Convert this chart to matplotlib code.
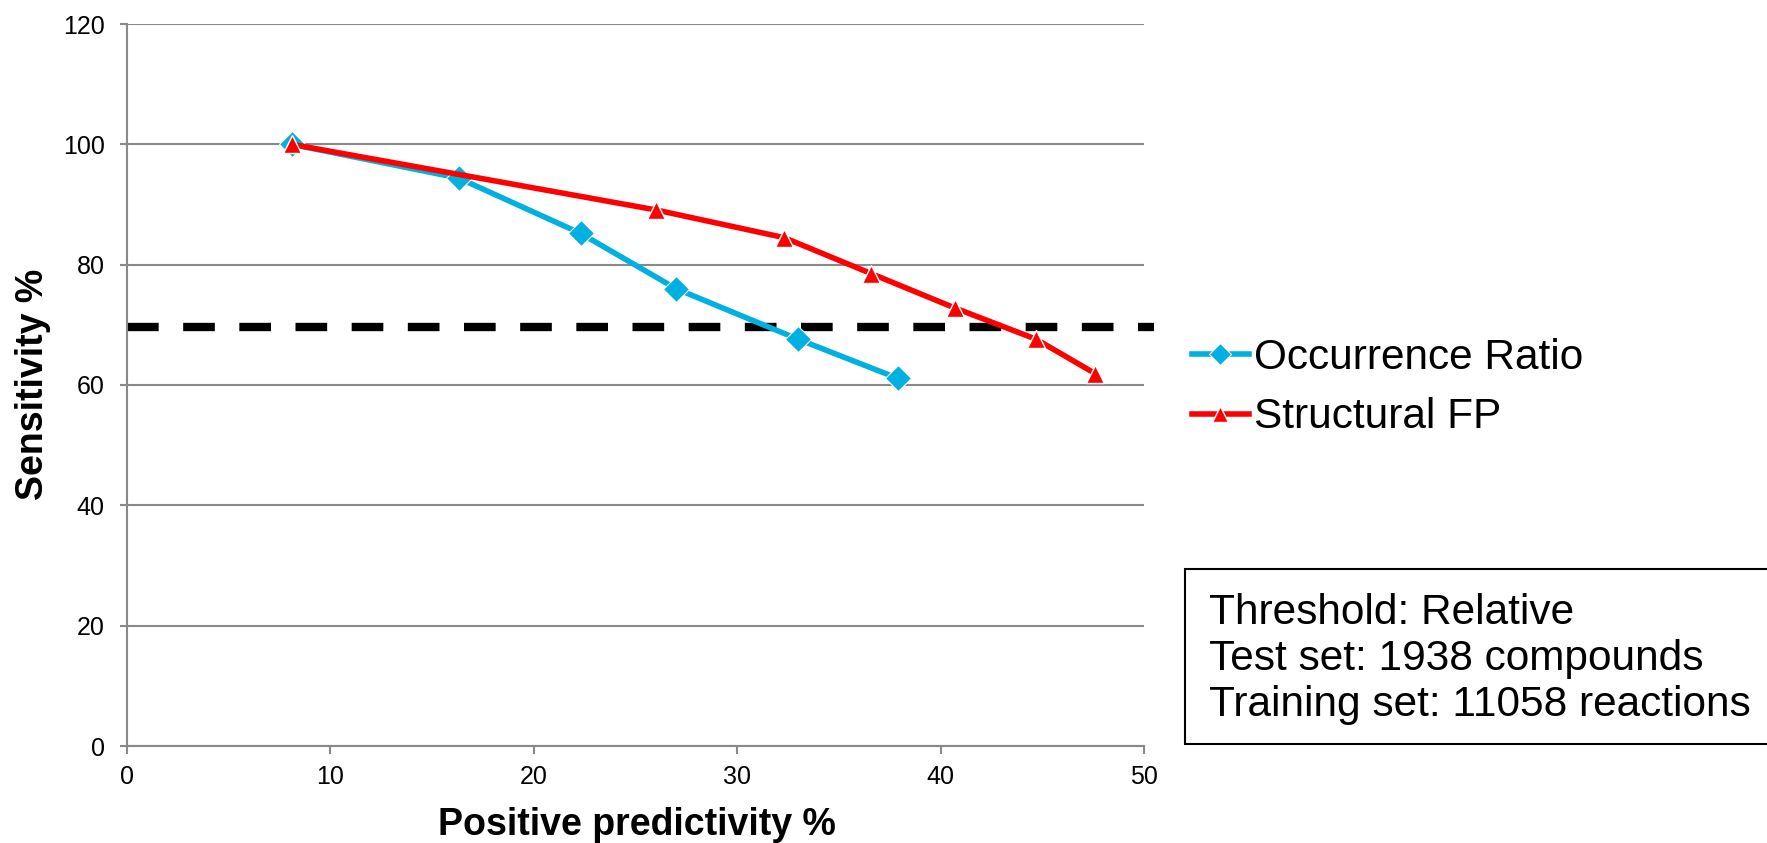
import matplotlib.pyplot as plt
from matplotlib.patches import Rectangle

plt.rcParams['font.family'] = ['Liberation Sans', 'DejaVu Sans']

# Kurvenwerte (Positive predictivity %, Sensitivity %)
occ_x = [8.1, 16.3, 22.3, 27.0, 33.0, 37.9]
occ_y = [100.0, 94.4, 85.2, 76.0, 67.6, 61.1]
fp_x = [8.1, 26.0, 32.3, 36.6, 40.7, 44.7, 47.6]
fp_y = [100.0, 89.1, 84.5, 78.5, 72.8, 67.6, 61.9]
labels = ['Occurrence Ratio', 'Structural FP']
threshold = 69.6
x_ticks = [0, 10, 20, 30, 40, 50]
y_ticks = [0, 20, 40, 60, 80, 100, 120]
info_lines = ['Threshold: Relative',
              'Test set: 1938 compounds',
              'Training set: 11058 reactions']

W, H = 1767, 843
fig = plt.figure(figsize=(W / 100, H / 100), dpi=100)
ax = fig.add_axes([127 / W, 1 - 746 / H, 1017 / W, 722 / H])

grey = '#898989'
blue = '#00B0E0'
red = '#FF0000'

ax.set_xlim(0, 50)
ax.set_ylim(0, 120)
ax.set_xticks(x_ticks)
ax.set_yticks(y_ticks)
ax.grid(axis='y', color=grey, linewidth=1.5, zorder=0)
ax.set_axisbelow(True)
for side in ['top', 'right']:
    ax.spines[side].set_visible(False)
for side in ['left', 'bottom']:
    ax.spines[side].set_color(grey)
    ax.spines[side].set_linewidth(1.5)
ax.tick_params(axis='both', colors=grey, width=1.5, labelsize=18, labelcolor='black')
ax.tick_params(axis='x', length=5.5, pad=8)
ax.tick_params(axis='y', length=5, pad=11)

# Schwellenwert
ax.axhline(threshold, xmin=0, xmax=1.01, color='black', linewidth=6,
           dashes=(3.8, 2.94), clip_on=False, zorder=2)

# Kurven
ax.plot(occ_x, occ_y, color=blue, linewidth=4, marker='D', markersize=13,
        markeredgecolor='white', markeredgewidth=0.8, label=labels[0], zorder=3)
ax.plot(fp_x, fp_y, color=red, linewidth=4, marker='^', markersize=13,
        markeredgecolor='white', markeredgewidth=1, label=labels[1], zorder=4)

fig.text(637 / W, 1 - 835 / H, 'Positive predictivity %', fontsize=27,
         fontweight='bold', ha='center', va='baseline')
fig.text(43 / W, 1 - 384 / H, 'Sensitivity %', fontsize=27, fontweight='bold',
         rotation=90, rotation_mode='anchor', ha='center', va='baseline')

fig.legend(loc='center left', bbox_to_anchor=(1192 / W, 1 - 387.5 / H),
           frameon=False, fontsize=30.5, handlelength=1.34, handletextpad=0.12,
           labelspacing=0.47, borderpad=0, borderaxespad=0, markerscale=0.85)

# Infobox
fig.patches.append(Rectangle((1184.5 / W, 1 - 743.5 / H), 600 / W, 174.5 / H,
                             transform=fig.transFigure, facecolor='white',
                             edgecolor='black', linewidth=1.5))
fig.text(1209 / W, 1 - 716 / H, '\n'.join(info_lines), fontsize=30.5,
         ha='left', va='baseline', linespacing=1.2)

fig.savefig('out.png', dpi=100)
